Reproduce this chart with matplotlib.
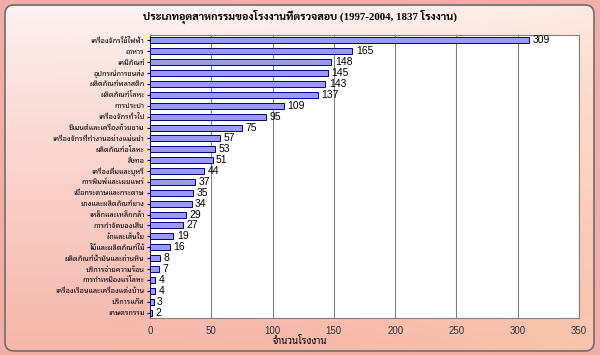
import matplotlib
matplotlib.use("Agg")
import matplotlib.pyplot as plt
import numpy as np
from matplotlib.patches import FancyBboxPatch

# data
industries = [
    "เครื่องจักรใช้ไฟฟ้า", "อาหาร", "เคมีภัณฑ์", "อุปกรณ์การขนส่ง",
    "ผลิตภัณฑ์พลาสติก", "ผลิตภัณฑ์โลหะ", "การประปา", "เครื่องจักรทั่วไป",
    "ซีเมนต์และเครื่องถ้วยชาม", "เครื่องจักรที่ทำงานอย่างแม่นยำ",
    "ผลิตภัณฑ์อโลหะ", "สิ่งทอ", "เครื่องดื่มและบุหรี่", "การพิมพ์และเผยแพร่",
    "เยื่อกระดาษและกระดาษ", "ยางและผลิตภัณฑ์ยาง", "เหล็กและเหล็กกล้า",
    "การกำจัดของเสีย", "ผ้าและเส้นใย", "ไม้และผลิตภัณฑ์ไม้",
    "ผลิตภัณฑ์น้ำมันและถ่านหิน", "บริการจ่ายความร้อน", "การทำเหมืองแร่โลหะ",
    "เครื่องเรือนและเครื่องแต่งบ้าน", "บริการแก๊ส", "เกษตรกรรม",
]
factories = [309, 165, 148, 145, 143, 137, 109, 95, 75, 57, 53, 51, 44, 37,
             35, 34, 29, 27, 19, 16, 8, 7, 4, 4, 3, 2]
x_ticks = [0, 50, 100, 150, 200, 250, 300, 350]

title = "ประเภทอุตสาหกรรมของโรงงานที่ตรวจสอบ (1997-2004, 1837 โรงงาน)"
xlabel = "จำนวนโรงงาน"

sans = ["Liberation Sans", "Noto Sans Thai Looped", "DejaVu Sans"]
serif = ["Liberation Serif", "Sarabun", "DejaVu Serif"]

fig = plt.figure(figsize=(6, 3.55), dpi=100)
fig.patch.set_facecolor("#f3aca6")

# background panel with gradient
bg = fig.add_axes([0, 0, 1, 1])
bg.set_xlim(0, 600)
bg.set_ylim(0, 355)
bg.axis("off")
h, w = 200, 300
t = np.linspace(0, 1, h)[:, None]
s = np.linspace(0, 1, w)[None, :]
top = np.array([253, 242, 242]) / 255
bot = np.array([246, 182, 170]) / 255
peach = np.array([252, 208, 172]) / 255
img = top + (bot - top) * (t ** 0.9)[..., None]
k = (0.55 * s ** 2.5 * (0.4 + 0.6 * t))[..., None]
img = img * (1 - k) + peach * k
panel = FancyBboxPatch((5, 4), 589, 346, boxstyle="round,pad=0,rounding_size=9",
                       facecolor="none", edgecolor="#6e6e6e", lw=1.2)
bg.add_patch(panel)
im = bg.imshow(img, extent=(5, 594, 4, 350), aspect="auto", origin="upper", zorder=0)
im.set_clip_path(panel)

ax = fig.add_axes([150 / 600, 1 - 318 / 355, 429 / 600, 283 / 355])
ax.set_facecolor("white")
ypos = np.arange(len(industries))
ax.barh(ypos, factories, height=0.55, color="#9999ff", edgecolor="#000080",
        linewidth=0.7, zorder=3)
for y, v in zip(ypos, factories):
    ax.annotate(str(v), (v, y), xytext=(2.5, 0), textcoords="offset points",
                va="center", ha="left", fontsize=7.5, family=sans, zorder=4)

ax.set_xlim(0, 350)
ax.set_ylim(len(industries) - 0.5, -0.5)
ax.set_xticks(x_ticks)
ax.set_xticklabels([str(v) for v in x_ticks], fontsize=7, family=sans, color="#333333")
ax.set_yticks(ypos)
ax.set_yticklabels(industries, fontsize=5.3, family=sans)
ax.tick_params(axis="x", length=0, pad=6)
ax.tick_params(axis="y", length=2, pad=2)
ax.grid(axis="x", color="#808080", linewidth=0.8, zorder=1)
for side in ["top", "right", "bottom"]:
    ax.spines[side].set_color("#808080")
ax.spines["left"].set_color("#333333")

fig.text(0.5, 1 - 17 / 355, title, ha="center", va="center", fontsize=7.8,
         fontweight="bold", family=serif)
fig.text(0.5, 1 - 341 / 355, xlabel, ha="center", va="center", fontsize=7,
         fontweight="bold", family=sans)

fig.savefig("out.png", dpi=100, facecolor=fig.get_facecolor())
